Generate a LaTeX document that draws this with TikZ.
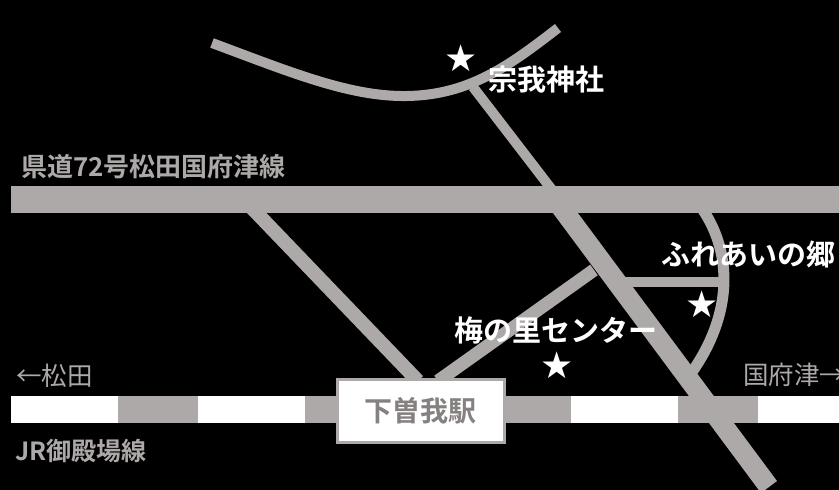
\documentclass[tikz,border=0pt]{standalone}
\usepackage{fontspec}
\setmainfont{Noto Sans CJK JP}[BoldFont={Noto Sans CJK JP Bold}]
\newfontfamily\starfont{DejaVu Sans}
\definecolor{rd}{HTML}{ADA9A8}
\definecolor{stationtext}{HTML}{858180}
\tikzset{x=1pt,y=-1pt,
road/.style={draw=rd,line cap=butt},
wlabel/.style={text=white,font=\bfseries\fontsize{29}{31}\selectfont,inner sep=0pt,anchor=west},
glabel/.style={text=rd,font=\bfseries\fontsize{26}{28}\selectfont,inner sep=0pt,anchor=west},
starmark/.style={text=white,font=\starfont\fontsize{37}{37}\selectfont,inner sep=0pt}}
\begin{document}
\begin{tikzpicture}
\useasboundingbox[fill=black] (0,0) rectangle (839,490);
\draw[road,line width=10pt] (212,43) .. controls (290,72) and (350,97) .. (407,96) .. controls (470,95) and (510,65) .. (558,28);
\draw[road,line width=10pt] (473,87) -- (556,195);
\fill[rd] (11,186) rectangle (839,213);
\draw[road,line width=14pt] (250,206) -- (418,381);
\draw[road,line width=13pt] (594,270) -- (438,381);
\draw[road,line width=10pt] (610,282) -- (722,282);
\draw[road,line width=11pt] (703,210) .. controls (733,255) and (732,315) .. (692,372);
\fill[white] (11,396) rectangle (839,423);
\foreach \a/\b in {118/198,305/337,505/571,678/758}{\fill[rd] (\a,396) rectangle (\b,423);}
\draw[road,line width=20pt] (555,199) -- (769,487);
\node[draw=rd,line width=3pt,fill=white,minimum width=167pt,minimum height=63pt,text=stationtext,font=\bfseries\fontsize{28}{30}\selectfont,inner sep=0pt] (st) at (420.5,410.5) {下曽我駅};
\node[starmark] (s1) at (461,58) {★};
\node[starmark] (s2) at (702,304) {★};
\node[starmark] (s3) at (557,365) {★};
\node[wlabel] (a) at (488,80) {宗我神社};
\node[wlabel] (b) at (661,254) {ふれあいの郷};
\node[wlabel] (c) at (454,330) {梅の里センター};
\node[glabel] (d) at (21,167) {県道72号松田国府津線};
\node[glabel,font=\fontsize{25.5}{28}\selectfont] (e) at (16,376) {←松田};
\node[glabel,font=\fontsize{25.5}{28}\selectfont] (f) at (743,375) {国府津→};
\node[glabel,font=\bfseries\fontsize{25}{27}\selectfont] (g) at (15,451) {JR御殿場線};
\end{tikzpicture}
\end{document}
